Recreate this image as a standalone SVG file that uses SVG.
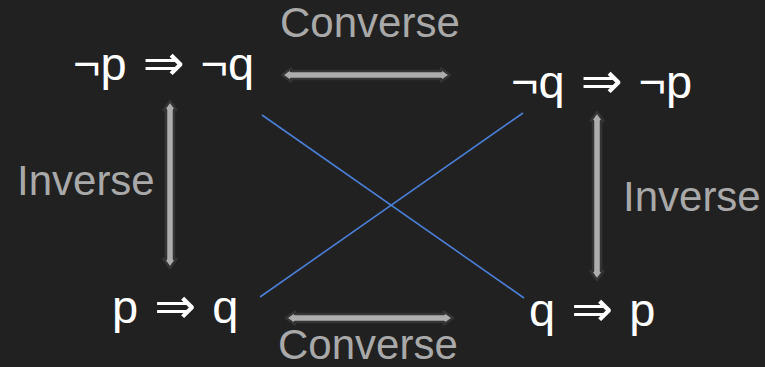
<svg xmlns="http://www.w3.org/2000/svg" width="765" height="367" viewBox="0 0 765 367">
<style>
.node{font-family:"Liberation Sans","DejaVu Sans",sans-serif;font-size:47px;fill:#ffffff;word-spacing:3px}
.imp{font-family:"DejaVu Sans",sans-serif;font-size:50px}
.lbl{font-family:"Liberation Sans",Arial,sans-serif;font-size:42px;fill:#a9a9a9}
.arr{fill:#adadad;stroke:#343434;stroke-width:2.5;stroke-linejoin:round}
.diag{stroke:#4a7fd8;stroke-width:1.6;fill:none}
</style>
<rect width="765" height="367" fill="#212121"/>
<g id="connectors">
<line class="diag" x1="262" y1="115" x2="524" y2="298"/>
<line class="diag" x1="260" y1="297" x2="523" y2="113"/>
<polygon class="arr" points="282,75 291,68.5 291,71 441,71 441,68.5 450,75 441,81.5 441,79 291,79 291,81.5"/>
<polygon class="arr" points="286,318 295,311.5 295,314 444,314 444,311.5 453,318 444,324.5 444,322 295,322 295,324.5"/>
<polygon class="arr" points="170,101 176.5,110 174,110 174,259 176.5,259 170,268 163.5,259 166,259 166,110 163.5,110"/>
<polygon class="arr" points="597,112 603.5,121 601,121 601,271 603.5,271 597,280 590.5,271 593,271 593,121 590.5,121"/>
</g>
<g id="labels">
<text class="lbl" x="280" y="37">Converse</text>
<text class="lbl" x="278" y="359">Converse</text>
<text class="lbl" x="17" y="195">Inverse</text>
<text class="lbl" x="623" y="211">Inverse</text>
</g>
<g id="n1"><text class="node" x="73" y="80">¬p <tspan class="imp">⇒</tspan> ¬q</text></g>
<g id="n2"><text class="node" x="511" y="98">¬q <tspan class="imp">⇒</tspan> ¬p</text></g>
<g id="n3"><text class="node" x="112" y="323">p <tspan class="imp">⇒</tspan> q</text></g>
<g id="n4"><text class="node" x="529" y="326">q <tspan class="imp">⇒</tspan> p</text></g>
</svg>
